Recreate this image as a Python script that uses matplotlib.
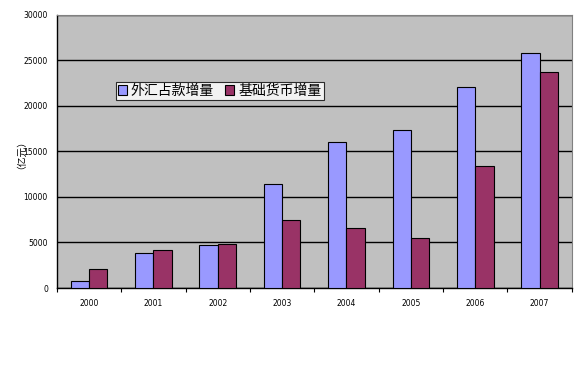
import numpy as np
import matplotlib.pyplot as plt
from matplotlib.patches import Patch

plt.rcParams['font.family'] = ['Noto Sans CJK SC', 'DejaVu Sans']

years = ['2000', '2001', '2002', '2003', '2004', '2005', '2006', '2007']
fx_increase = [770, 3800, 4700, 11400, 16000, 17400, 22100, 25800]   # 外汇占款增量
base_money = [2050, 4180, 4800, 7470, 6560, 5460, 13400, 23750]      # 基础货币增量
series_names = ['外汇占款增量', '基础货币增量']
y_ticks = [0, 5000, 10000, 15000, 20000, 25000, 30000]

BLUE = '#9999FF'
RED = '#993366'
BG = '#C0C0C0'

fig = plt.figure(figsize=(5.81, 3.84), dpi=100)
ax = fig.add_axes([0.098, 0.25, 0.886, 0.711])
ax.set_facecolor(BG)

x = np.arange(len(years))
w = 0.285
ax.bar(x - w / 2, fx_increase, w, color=BLUE, edgecolor='black', linewidth=0.8, zorder=3)
ax.bar(x + w / 2, base_money, w, color=RED, edgecolor='black', linewidth=0.8, zorder=3)

ax.set_xlim(-0.5, len(years) - 0.5)
ax.set_ylim(0, 30000)
ax.set_yticks(y_ticks)
ax.set_yticklabels([str(v) for v in y_ticks], fontsize=5.5, family='DejaVu Sans')
ax.yaxis.grid(True, color='black', linewidth=1.0, zorder=1)
ax.set_axisbelow(True)

ax.set_xticks(x)
ax.set_xticklabels(years, fontsize=5.5, family='DejaVu Sans')
ax.tick_params(axis='x', length=0, pad=8)
ax.tick_params(axis='y', length=0, pad=6.5)
ax.set_xticks(np.arange(len(years) + 1) - 0.5, minor=True)
ax.tick_params(axis='x', which='minor', length=3, direction='out', width=0.8)

for side in ['top', 'right']:
    ax.spines[side].set_color('#808080')
    ax.spines[side].set_linewidth(0.8)
for side in ['left', 'bottom']:
    ax.spines[side].set_color('black')
    ax.spines[side].set_linewidth(1.0)

fig.text(0.028, 0.61, '（亿元）', rotation=90, fontsize=7, ha='center', va='center')

handles = [Patch(facecolor=BLUE, edgecolor='black', linewidth=0.8),
           Patch(facecolor=RED, edgecolor='black', linewidth=0.8)]
leg = ax.legend(handles, series_names, loc='upper left', bbox_to_anchor=(0.114, 0.755),
                ncol=2, fontsize=10, frameon=True, fancybox=False, borderpad=0.15,
                handlelength=0.65, handleheight=0.65, handletextpad=0.3, columnspacing=0.8,
                borderaxespad=0)
leg.get_frame().set_edgecolor('black')
leg.get_frame().set_facecolor('white')
leg.get_frame().set_linewidth(0.8)

fig.savefig('out.png', dpi=100)
